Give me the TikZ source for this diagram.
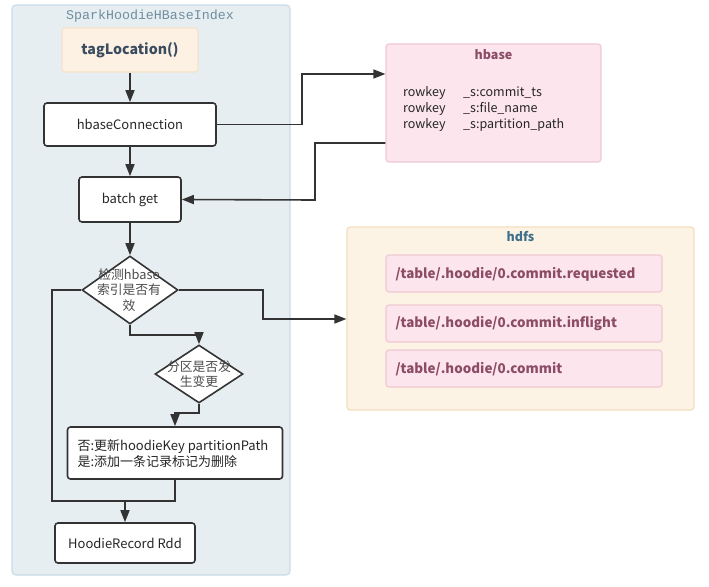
\documentclass[tikz,border=0pt]{standalone}
\usepackage{fontspec}
\setmainfont{Noto Sans CJK SC}
\newfontfamily\monofnt{Liberation Mono}
\usetikzlibrary{arrows.meta,shapes.geometric,calc}
\definecolor{contfill}{HTML}{E7EEF2}
\definecolor{contline}{HTML}{C9DCE6}
\definecolor{conttext}{HTML}{6F8E9E}
\definecolor{tagfill}{HTML}{FDF1E3}
\definecolor{tagline}{HTML}{F5E2CA}
\definecolor{darktext}{HTML}{3A4D60}
\definecolor{pinkfill}{HTML}{FCE5EC}
\definecolor{pinkline}{HTML}{F0C9D4}
\definecolor{pinktext}{HTML}{8C4C66}
\definecolor{hdfsfill}{HTML}{FDF3E4}
\definecolor{hdfsline}{HTML}{F5DEBE}
\definecolor{hdfstext}{HTML}{3D6F8B}
\definecolor{lnc}{HTML}{333333}
\tikzset{
  flowbox/.style={draw=lnc, line width=1.6pt, fill=white, rounded corners=3pt, inner sep=0pt, text=black!85},
  dia/.style={draw=lnc, line width=1.6pt, fill=white, diamond, inner sep=0pt},
  conn/.style={draw=lnc, line width=1.6pt, -{Triangle[length=12pt,width=9pt]}},
  plain/.style={draw=lnc, line width=1.6pt},
  filebox/.style={draw=pinkline, line width=1.2pt, fill=pinkfill, rounded corners=3pt, minimum width=276pt, minimum height=37pt, inner sep=0pt},
  ftext/.style={font=\fontsize{13.4}{15}\selectfont\bfseries, text=pinktext, anchor=west},
  txt/.style={font=\fontsize{13}{15}\selectfont}
}
\begin{document}
\begin{tikzpicture}[x=1pt,y=-1pt]
\useasboundingbox[fill=white] (0,0) rectangle (709,586);
% container
\node[draw=contline, line width=1.2pt, fill=contfill, rounded corners=4pt, minimum width=278pt, minimum height=570pt, inner sep=0pt] (cont) at (151,290) {};
\node[font=\monofnt\fontsize{13.3}{15}\selectfont, text=conttext] (conttitle) at (150,16) {SparkHoodieHBaseIndex};
% tagLocation
\node[draw=tagline, line width=1.2pt, fill=tagfill, rounded corners=3pt, minimum width=136pt, minimum height=44pt, inner sep=0pt, font=\fontsize{14.2}{17}\selectfont\bfseries, text=darktext] (tag) at (130,50) {tagLocation()};
\node[flowbox, minimum width=172pt, minimum height=43pt, txt] (conn) at (130,124.5) {hbaseConnection};
\node[flowbox, minimum width=102pt, minimum height=45pt, txt] (batch) at (130,199.5) {batch get};
\node[dia, minimum width=96pt, minimum height=68pt] (d1) at (130,290) {};
\node[align=center, font=\fontsize{12.8}{15.5}\selectfont, text=black!70] (d1t) at (129,290) {检测hbase\\索引是否有\\效};
\node[dia, minimum width=88pt, minimum height=58pt] (d2) at (199,374) {};
\node[align=center, font=\fontsize{12.8}{15.5}\selectfont, text=black!70] (d2t) at (199,374) {分区是否发\\生变更};
\node[flowbox, minimum width=215pt, minimum height=52pt] (upd) at (175,453) {};
\node[align=left, anchor=west, font=\fontsize{13}{16}\selectfont, text=black!85] (updt) at (74,454) {否:更新hoodieKey partitionPath\\是:添加一条记录标记为删除};
\node[flowbox, minimum width=140pt, minimum height=40pt, txt] (rdd) at (125,543) {HoodieRecord Rdd};
% hbase
\node[draw=pinkline, line width=1.2pt, fill=pinkfill, rounded corners=3pt, minimum width=215pt, minimum height=118pt, inner sep=0pt] (hbase) at (493.5,103) {};
\node[font=\fontsize{12.5}{15}\selectfont\bfseries, text=pinktext] (hbaset) at (493.5,55) {hbase};
\node[anchor=west, align=left, font=\fontsize{12.5}{16}\selectfont, text=black!85, inner sep=0pt] (hbaserows) at (403,109)
 {\makebox[60pt][l]{rowkey}\_s:commit\_ts\\\makebox[60pt][l]{rowkey}\_s:file\_name\\\makebox[60pt][l]{rowkey}\_s:partition\_path};
% hdfs
\node[draw=hdfsline, line width=1.2pt, fill=hdfsfill, rounded corners=3pt, minimum width=347pt, minimum height=183pt, inner sep=0pt] (hdfs) at (520.5,318.5) {};
\node[font=\fontsize{12.5}{15}\selectfont\bfseries, text=hdfstext] (hdfst) at (520.5,237) {hdfs};
\node[filebox] (f1) at (524,273.5) {};
\node[ftext] (f1t) at (392,274) {/table/.hoodie/0.commit.requested};
\node[filebox] (f2) at (524,323.5) {};
\node[ftext] (f2t) at (392,324) {/table/.hoodie/0.commit.inflight};
\node[filebox] (f3) at (524,368.5) {};
\node[ftext] (f3t) at (392,369) {/table/.hoodie/0.commit};
% connectors
\coordinate (c1) at (302,124.5);
\coordinate (c2) at (302,74);
\coordinate (c3) at (315,143);
\coordinate (c4) at (315,200);
\coordinate (c5) at (263,290);
\coordinate (c6) at (263,319);
\coordinate (c7) at (130,335);
\coordinate (c8) at (199,335);
\coordinate (c9) at (52,290);
\coordinate (c10) at (52,501);
\coordinate (c11) at (125,501);
\coordinate (c12) at (199,413);
\coordinate (c13) at (175,413);
\coordinate (c14) at (175,501);
\draw[conn] (tag.south) -- (conn.north);
\draw[conn] (conn.south) -- (batch.north);
\draw[conn] (batch.south) -- (d1.north);
\draw[conn] (conn.east) -- (c1) -- (c2) -- (c2 -| hbase.west);
\draw[conn] (c3 -| hbase.west) -- (c3) -- (c4) -- (batch.east);
\draw[conn] (d1.east) -- (c5) -- (c6) -- (c6 -| hdfs.west);
\draw[conn] (d1.south) -- (c7) -- (c8) -- (d2.north);
\draw[conn] (d2.south) -- (c12) -- (c13) -- (upd.north -| c13);
\draw[plain] (d1.west) -- (c9) -- (c10) -- (c14) -- (upd.south -| c14);
\draw[conn] (c11) -- (rdd.north -| c11);
\end{tikzpicture}
\end{document}
